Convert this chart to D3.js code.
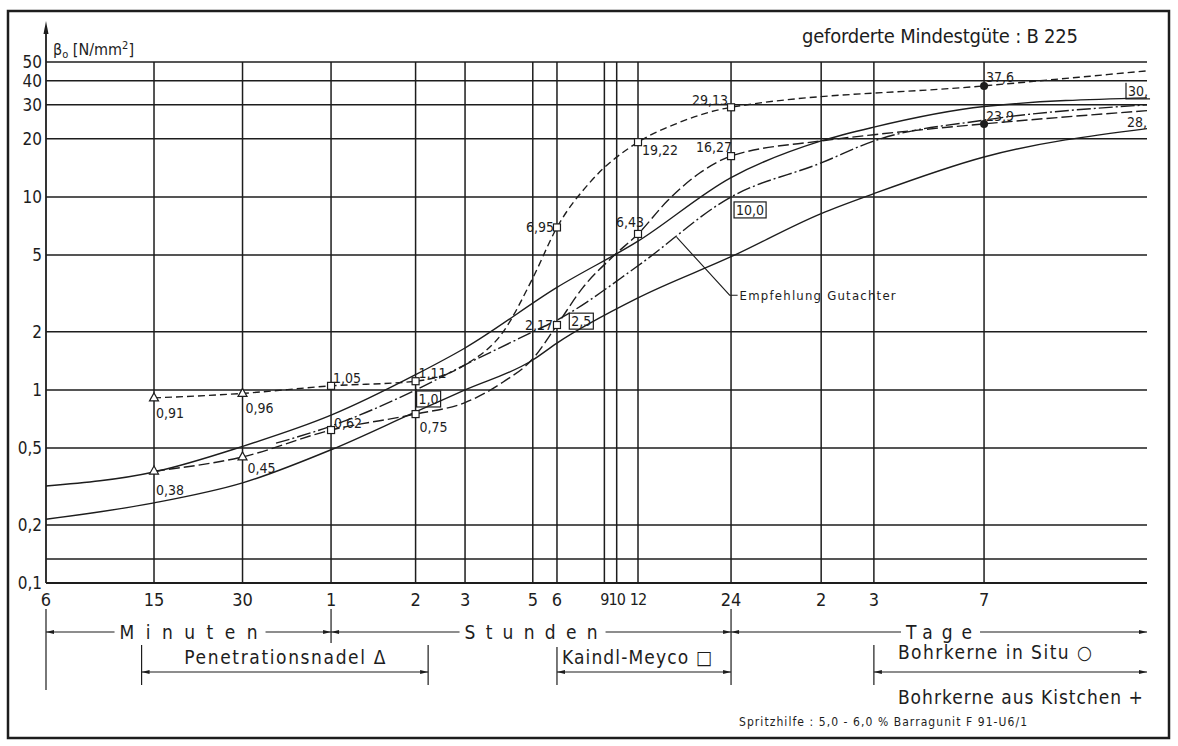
<!DOCTYPE html>
<html>
<head>
<meta charset="utf-8">
<script src="https://cdn.jsdelivr.net/npm/d3@7"></script>
<style>
  body { margin: 0; background: #fff; }
  svg { display: block; }
  text { font-family: "DejaVu Sans Condensed", "Liberation Sans Narrow", "DejaVu Sans", sans-serif; fill: #1d1d1d; }
</style>
</head>
<body>
<svg id="chart" width="1178" height="746"></svg>
<script>
// time in minutes, strength in N/mm²
const tickMinutes = [6, 15, 30, 60, 120, 180, 300, 360, 540, 600, 720, 1440, 2880, 4320, 10080];
const tickLabels = ["6", "15", "30", "1", "2", "3", "5", "6", "9", "10", "12", "24", "2", "3", "7"];
const yGrid = [0.1, 0.133, 0.2, 0.5, 1, 2, 5, 10, 20, 30, 40, 50];
const yLabels = ["0,1", "", "0,2", "0,5", "1", "2", "5", "10", "20", "30", "40", "50"];

// envelope curves (solid)
const upperBound = [[6, 0.318], [15, 0.376], [30, 0.51], [60, 0.74], [120, 1.2], [180, 1.65], [360, 3.4],
  [720, 5.9], [1440, 12.6], [2880, 19.5], [4320, 23], [10080, 29.4], [40320, 32.6]];
const lowerBound = [[6, 0.214], [15, 0.26], [30, 0.33], [60, 0.49], [120, 0.77], [180, 1.0], [300, 1.43],
  [360, 1.75], [720, 3.0], [1440, 4.9], [2880, 8.2], [4320, 10.4], [10080, 16.1], [40320, 22.6]];

// test series 1 (upper dashed)
const k1Curve = [[15, 0.91], [30, 0.96], [60, 1.05], [120, 1.11], [180, 1.35], [240, 2.0], [300, 3.8],
  [360, 6.95], [480, 12], [720, 19.22], [960, 24], [1440, 29.13], [10080, 37.6], [40320, 45]];
const k1Times = [15, 30, 60, 120, 360, 720, 1440, 10080];
const k1Values = [0.91, 0.96, 1.05, 1.11, 6.95, 19.22, 29.13, 37.6];

// test series 2 (lower dashed)
const k2Curve = [[15, 0.38], [30, 0.45], [60, 0.62], [120, 0.75], [180, 0.86], [240, 1.1], [300, 1.45],
  [360, 2.17], [450, 3.4], [580, 4.9], [720, 6.43], [900, 9.6], [1140, 13.3], [1440, 16.27],
  [2880, 19.5], [4320, 21], [10080, 23.9], [40320, 28]];
const k2Times = [15, 30, 60, 120, 360, 720, 1440, 10080];
const k2Values = [0.38, 0.45, 0.62, 0.75, 2.17, 6.43, 16.27, 23.9];

// Empfehlung Gutachter (dash-dot)
const recCurve = [[39, 0.53], [60, 0.65], [120, 1.0], [180, 1.35], [300, 2.0], [360, 2.3], [400, 2.5],
  [720, 4.4], [1440, 10], [2880, 15], [4320, 19.5], [10080, 25], [40320, 30]];
const recTimes = [120, 400, 1440, 40320];
const recLabels = ["1,0", "2,5", "10,0", "30,"];

const ink = "#1d1d1d";
const margin = {top: 62, right: 31, bottom: 163, left: 46};
const width = 1178 - margin.left - margin.right;
const height = 746 - margin.top - margin.bottom;

// the drawn time axis is roughly logarithmic, with some stretch between its ticks
const x = d3.scaleLog()
  .domain([6, 15, 60, 180, 360, 720, 1440, 10080, 40320])
  .range([0, 0.0981, 0.2589, 0.3806, 0.4641, 0.5377, 0.6222, 0.852, 1].map(f => f * width));
const y = d3.scaleLog().domain([0.1, 50]).range([height, 0]);

const svg = d3.select("#chart");
svg.append("rect")
  .attr("x", 8).attr("y", 11).attr("width", 1161).attr("height", 727)
  .attr("fill", "none").attr("stroke", ink).attr("stroke-width", 2.5);

const g = svg.append("g").attr("transform", `translate(${margin.left},${margin.top})`);

// grid
g.selectAll("line.hgrid").data(yGrid).join("line").attr("class", "hgrid")
  .attr("x1", 0).attr("x2", width)
  .attr("y1", d => y(d)).attr("y2", d => y(d))
  .attr("stroke", ink).attr("stroke-width", d => d === 0.1 ? 2 : 1.5);
g.selectAll("line.vgrid").data(tickMinutes.slice(1)).join("line").attr("class", "vgrid")
  .attr("x1", d => x(d)).attr("x2", d => x(d))
  .attr("y1", 0).attr("y2", height)
  .attr("stroke", ink).attr("stroke-width", 1.5);

// y axis with arrow
g.append("line").attr("x1", 0).attr("x2", 0).attr("y1", height).attr("y2", -36)
  .attr("stroke", ink).attr("stroke-width", 1.8);
g.append("path").attr("d", "M0,-41 L-2.5,-28 L2.5,-28 Z").attr("fill", ink);

g.selectAll("text.ylab").data(yGrid).join("text").attr("class", "ylab")
  .attr("x", -4).attr("y", d => y(d))
  .attr("text-anchor", "end").attr("dominant-baseline", "central")
  .attr("font-size", 17)
  .text((d, i) => yLabels[i]);

const yTitle = g.append("text").attr("x", 7).attr("y", -7).attr("font-size", 16);
yTitle.append("tspan").text("β");
yTitle.append("tspan").attr("font-size", 11).attr("dy", 3).text("o");
yTitle.append("tspan").attr("dy", -3).text(" [N/mm");
yTitle.append("tspan").attr("font-size", 11).attr("dy", -6).text("2");
yTitle.append("tspan").attr("dy", 6).text("]");

g.selectAll("text.xlab").data(tickMinutes).join("text").attr("class", "xlab")
  .attr("x", d => x(d)).attr("y", height + 16)
  .attr("text-anchor", "middle").attr("dominant-baseline", "central")
  .attr("font-size", d => (d >= 540 && d <= 720) ? 16 : 18)
  .attr("letter-spacing", d => (d >= 540 && d <= 720) ? -1 : 0)
  .text((d, i) => tickLabels[i]);

// curves
const line = d3.line().x(d => x(d[0])).y(d => y(d[1])).curve(d3.curveMonotoneX);
const curves = [
  {data: upperBound, dash: null},
  {data: lowerBound, dash: null},
  {data: k1Curve, dash: "7,4"},
  {data: k2Curve, dash: "11,4"},
  {data: recCurve, dash: "14,3,2,3"}
];
g.selectAll("path.curve").data(curves).join("path").attr("class", "curve")
  .attr("d", d => line(d.data))
  .attr("fill", "none").attr("stroke", ink).attr("stroke-width", 1.4)
  .attr("stroke-dasharray", d => d.dash);

// markers: triangle = Penetrationsnadel, square = Kaindl-Meyco, dot = Bohrkerne
function drawMark(t, v) {
  const px = x(t), py = y(v);
  if (t < 60) {
    g.append("path").attr("d", `M${px},${py - 5} L${px - 4.5},${py + 3} L${px + 4.5},${py + 3} Z`)
      .attr("fill", "#fff").attr("stroke", ink).attr("stroke-width", 1.2);
  } else if (t < 10080) {
    g.append("rect").attr("x", px - 3.5).attr("y", py - 3.5).attr("width", 7).attr("height", 7)
      .attr("fill", "#fff").attr("stroke", ink).attr("stroke-width", 1.2);
  } else {
    g.append("circle").attr("cx", px).attr("cy", py).attr("r", 4).attr("fill", ink);
  }
}

const fmt = v => String(v).replace(".", ",");
// label placement: [dx, dy, anchor]
const k1LabelPos = [[2, 20, "start"], [3, 20, "start"], [2, -3, "start"], [3, -3, "start"],
  [-3, 5, "end"], [4, 13, "start"], [-3, -2, "end"], [2, -4, "start"]];
const k2LabelPos = [[2, 24, "start"], [5, 16, "start"], [3, -2, "start"], [4, 18, "start"],
  [-4, 5, "end"], [6, -7, "end"], [1, -4, "end"], [2, -3, "start"]];

function drawSeries(times, values, pos) {
  times.forEach((t, i) => {
    drawMark(t, values[i]);
    g.append("text")
      .attr("x", x(t) + pos[i][0]).attr("y", y(values[i]) + pos[i][1])
      .attr("text-anchor", pos[i][2]).attr("font-size", 14)
      .text(fmt(values[i]));
  });
}
drawSeries(k1Times, k1Values, k1LabelPos);
drawSeries(k2Times, k2Values, k2LabelPos);

// end value of series 2 after 28 days
const k2End = k2Curve[k2Curve.length - 1];
g.append("text").attr("x", x(k2End[0])).attr("y", y(k2End[1]) + 16)
  .attr("text-anchor", "end").attr("font-size", 14).text("28,");

// boxed recommendation values
const recBoxPos = [[1, 1], [0, 0], [3, 5], [-21, -22]];
recTimes.forEach((t, i) => {
  const v = recCurve.find(d => d[0] === t)[1];
  const bx = x(t) + recBoxPos[i][0], by = y(v) + recBoxPos[i][1];
  const txt = g.append("text").attr("x", bx + 2).attr("y", by + 13)
    .attr("font-size", 14).text(recLabels[i]);
  const w = txt.node().getComputedTextLength() + 4;
  if (i === recTimes.length - 1) {
    g.append("path").attr("d", `M${bx},${by} V${by + 16} H${bx + w}`)
      .attr("fill", "none").attr("stroke", ink).attr("stroke-width", 1.2);
  } else {
    g.insert("rect", "text").attr("x", bx).attr("y", by).attr("width", w).attr("height", 16)
      .attr("fill", "#fff").attr("stroke", ink).attr("stroke-width", 1.2);
  }
});

// leader for the recommendation curve
const lt = 960;
const lv = 4.4 * Math.pow(10 / 4.4, Math.log(lt / 720) / Math.log(2));
const lx = x(lt), ly = y(lv);
g.append("path").attr("d", `M${lx},${ly} L${lx + 53},${ly + 58} H${lx + 61}`)
  .attr("fill", "none").attr("stroke", ink).attr("stroke-width", 1.1);
g.append("text").attr("x", lx + 63).attr("y", ly + 63).attr("font-size", 13)
  .attr("textLength", 156).attr("lengthAdjust", "spacing").text("Empfehlung Gutachter");

// title
svg.append("text").attr("x", 802).attr("y", 43).attr("font-size", 20)
  .attr("textLength", 276).attr("lengthAdjust", "spacing").text("geforderte Mindestgüte : B 225");

// ---- time unit rows below the axis (offsets from the 0,1 line) ----
function arrowHead(px, py, dir) {
  g.append("path").attr("d", `M${px},${py} L${px - dir * 8},${py - 2} L${px - dir * 8},${py + 2} Z`).attr("fill", ink);
}
function hline(x1, x2, py) {
  g.append("line").attr("x1", x1).attr("x2", x2).attr("y1", py).attr("y2", py)
    .attr("stroke", ink).attr("stroke-width", 1.2);
}
function vline(px, y1, y2) {
  g.append("line").attr("x1", px).attr("x2", px).attr("y1", y1).attr("y2", y2)
    .attr("stroke", ink).attr("stroke-width", 1.2);
}

const unitSpans = [
  {from: 6, to: 60, text: "Minuten", len: 138},
  {from: 60, to: 1440, text: "Stunden", len: 133},
  {from: 1440, to: 40320, text: "Tage", len: 66}
];
const rowY = height + 49;
vline(x(6), height + 26, height + 107);
vline(x(60), height + 26, height + 60);
vline(x(1440), height + 26, height + 102);
unitSpans.forEach(s => {
  const x0 = x(s.from), x1 = x(s.to), cx = (x0 + x1) / 2;
  g.append("text").attr("x", cx - s.len / 2).attr("y", rowY).attr("dominant-baseline", "central")
    .attr("font-size", 19).attr("textLength", s.len).attr("lengthAdjust", "spacing").text(s.text);
  hline(x0, cx - s.len / 2 - 5, rowY);
  hline(cx + s.len / 2 + 8, x1, rowY);
  arrowHead(x0, rowY, -1);
  arrowHead(x1, rowY, 1);
});

const methods = [
  {from: 13.5, to: 133, text: "Penetrationsnadel Δ", len: 201, tx: "center", ty: 74},
  {from: 360, to: 1440, text: "Kaindl-Meyco □", len: 150, tx: 5, ty: 74},
  {from: 4320, to: 40320, text: "Bohrkerne in Situ ○", len: 194, tx: 24, ty: 69}
];
const bracketY = height + 89;
methods.forEach(m => {
  const x0 = x(m.from), x1 = x(m.to);
  const tx = m.tx === "center" ? (x0 + x1) / 2 - m.len / 2 : x0 + m.tx;
  g.append("text").attr("x", tx).attr("y", height + m.ty).attr("dominant-baseline", "central")
    .attr("font-size", 19).attr("textLength", m.len).attr("lengthAdjust", "spacing").text(m.text);
  hline(x0, x1, bracketY);
  arrowHead(x0, bracketY, -1);
  arrowHead(x1, bracketY, 1);
  if (m.from !== 360) vline(x0, height + 62, height + 102);
  else vline(x0, height + 64, height + 102);
  if (m.to === 133) vline(x1, height + 62, height + 102);
});
g.append("text").attr("x", x(4320) + 24).attr("y", height + 114).attr("dominant-baseline", "central")
  .attr("font-size", 19).attr("textLength", 245).attr("lengthAdjust", "spacing").text("Bohrkerne aus Kistchen +");

g.append("text").attr("x", 739 - margin.left).attr("y", height + 139).attr("dominant-baseline", "central")
  .attr("font-size", 12).attr("textLength", 288).attr("lengthAdjust", "spacing")
  .text("Spritzhilfe : 5,0 - 6,0 % Barragunit F 91-U6/1");
</script>
</body>
</html>
